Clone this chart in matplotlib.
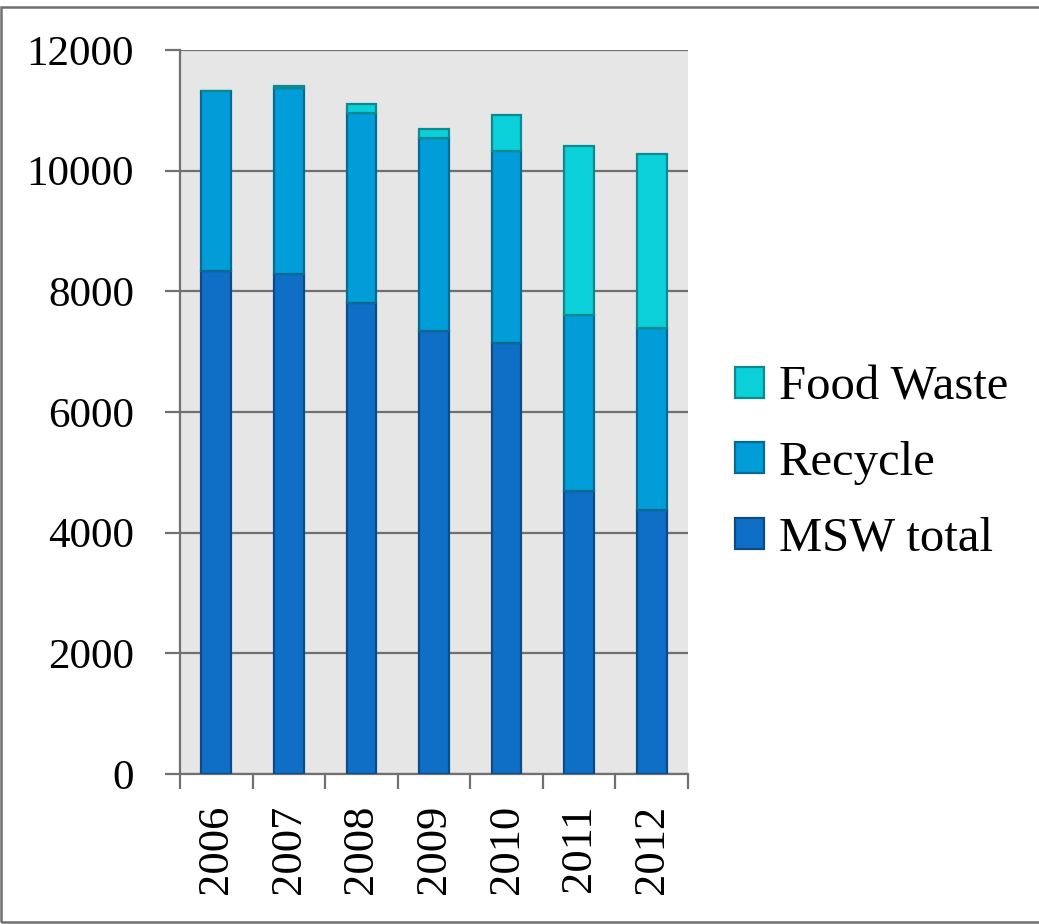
import matplotlib
matplotlib.use("Agg")
import matplotlib.pyplot as plt
from matplotlib.patches import Rectangle, Patch
import numpy as np

years = ["2006", "2007", "2008", "2009", "2010", "2011", "2012"]
msw_total = [8340, 8280, 7805, 7345, 7140, 4690, 4380]
recycle = [2985, 3095, 3155, 3200, 3190, 2910, 3005]
food_waste = [0, 33, 150, 150, 600, 2815, 2885]

series_names = ["MSW total", "Recycle", "Food Waste"]
face_colors = ["#0f6fc6", "#009dd9", "#0bd0d9"]
edge_colors = ["#0b4c86", "#066a91", "#0d8a90"]

plt.rcParams['font.family'] = ['Liberation Serif', 'DejaVu Serif']

fig = plt.figure(figsize=(10.39, 9.24), dpi=100)
ax = fig.add_axes([180/1039, 1 - 774/924, (688-180)/1039, (774-50)/924])
ax.set_facecolor("#e6e6e6")

x = np.arange(len(years))
bottom = np.zeros(len(years))
data = [msw_total, recycle, food_waste]
for vals, fc, ec, name in zip(data, face_colors, edge_colors, series_names):
    vals = np.array(vals, dtype=float)
    ax.bar(x, vals, width=0.41, bottom=bottom, color=fc, edgecolor=ec,
           linewidth=1.6, label=name, zorder=3)
    bottom += vals

ax.set_xlim(-0.5, len(years) - 0.5)
ax.set_ylim(0, 12000)
ax.set_yticks(np.arange(0, 12001, 2000))
ax.set_yticklabels([str(v) for v in range(0, 12001, 2000)], fontsize=31)
ax.yaxis.grid(True, color="#707070", linewidth=1.6, zorder=1)
ax.set_axisbelow(True)

ax.set_xticks(x)
ax.set_xticklabels(years, rotation=90, fontsize=32, va="top")
ax.tick_params(axis="x", length=0, pad=22)
ax.set_xticks(np.arange(-0.5, len(years), 1), minor=True)
ax.tick_params(axis="x", which="minor", length=11, width=1.6, color="#707070", direction="out")
ax.tick_params(axis="y", length=11, width=1.6, color="#707070", direction="out", pad=22)

for s in ["top", "right"]:
    ax.spines[s].set_visible(False)
for s in ["left", "bottom"]:
    ax.spines[s].set_color("#707070")
    ax.spines[s].set_linewidth(1.6)

handles = [Patch(facecolor=fc, edgecolor=ec, linewidth=1.6, label=n)
           for fc, ec, n in zip(face_colors, edge_colors, series_names)][::-1]
fig.legend(handles=handles, loc="center left", bbox_to_anchor=(735/1039, 1 - 463/924),
           frameon=False, fontsize=35, handlelength=0.6, handleheight=0.6,
           handletextpad=0.3, labelspacing=0.65, borderpad=0, borderaxespad=0)

fig.add_artist(Rectangle((0.0008, 0.002), 1.5, 1 - 7/924 - 0.002, transform=fig.transFigure,
                         fill=False, edgecolor="#707070", linewidth=1.8))

fig.savefig("out.png", dpi=100)
